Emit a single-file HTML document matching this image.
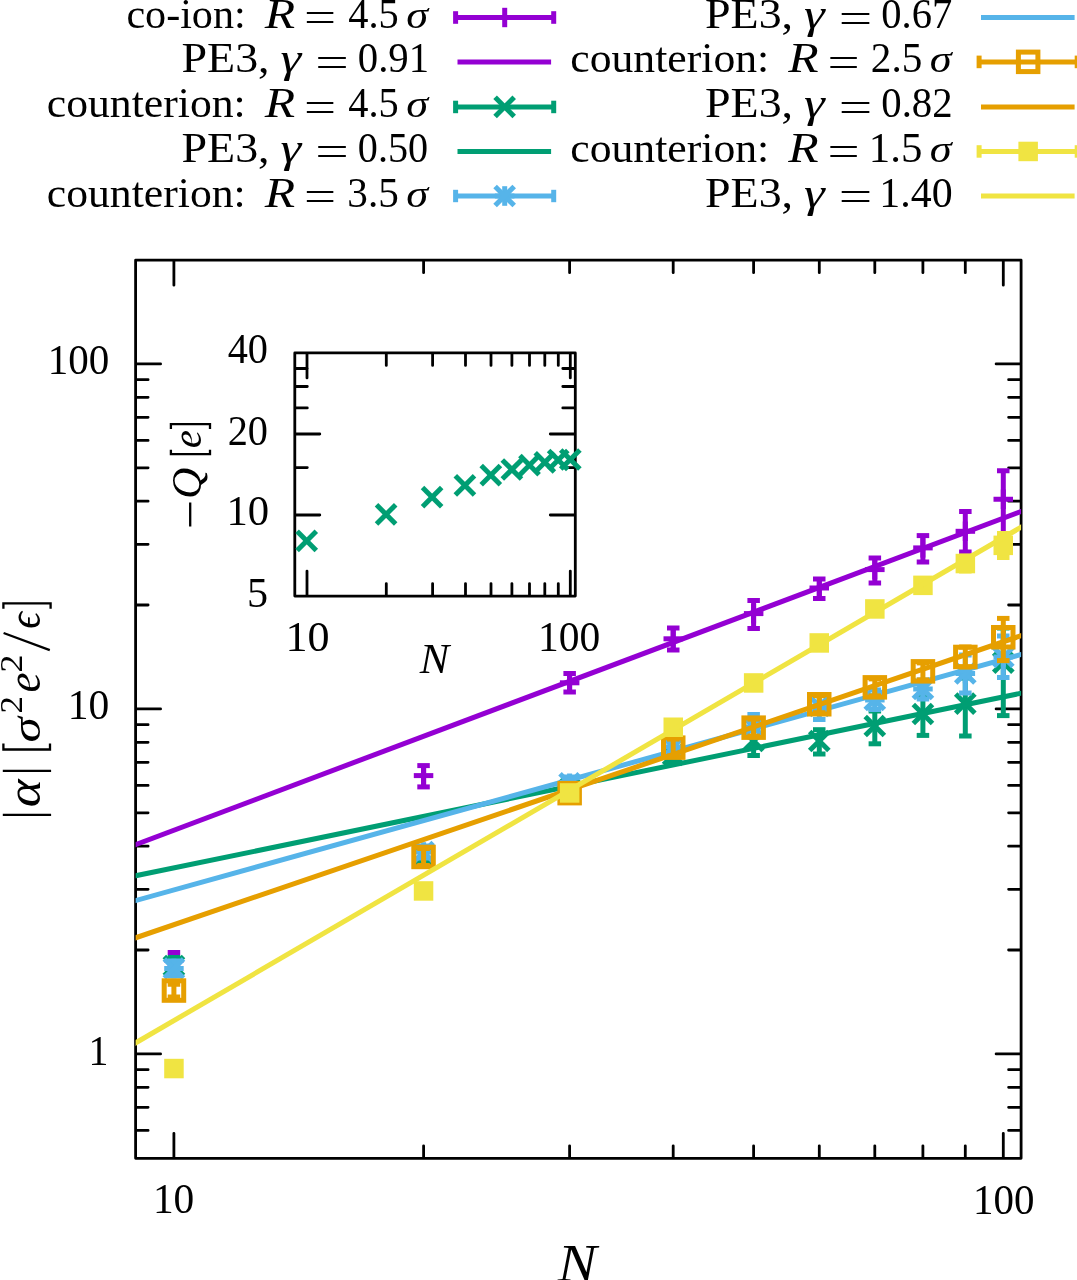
<!DOCTYPE html>
<html><head><meta charset="utf-8"><style>html,body{margin:0;padding:0;background:#fff;overflow:hidden}svg{display:block;will-change:transform}</style></head>
<body><svg width="1077" height="1280" viewBox="0 0 1077 1280">
<rect width="1077" height="1280" fill="#fff"/>
<g font-family="Liberation Serif, serif" fill="#000"><text x="126.40" y="27.60" font-size="42" textLength="119.30" lengthAdjust="spacingAndGlyphs">co-ion:</text>
<text x="264.70" y="27.60" font-size="42" font-style="italic" textLength="30.40" lengthAdjust="spacingAndGlyphs">R</text>
<text x="304.00" y="31.10" font-size="42" textLength="32.10" lengthAdjust="spacingAndGlyphs">=</text>
<text x="348.30" y="27.60" font-size="42" textLength="50.50" lengthAdjust="spacingAndGlyphs">4.5</text>
<text x="406.20" y="27.60" font-size="37" font-style="italic" textLength="21.90" lengthAdjust="spacingAndGlyphs">σ</text>
<text x="181.50" y="72.40" font-size="42" textLength="88.10" lengthAdjust="spacingAndGlyphs">PE3,</text>
<text x="280.60" y="72.40" font-size="42" font-style="italic" textLength="20.70" lengthAdjust="spacingAndGlyphs">γ</text>
<text x="315.20" y="75.90" font-size="42" textLength="33.50" lengthAdjust="spacingAndGlyphs">=</text>
<text x="357.80" y="72.40" font-size="42" textLength="71.30" lengthAdjust="spacingAndGlyphs">0.91</text>
<text x="46.80" y="117.30" font-size="42" textLength="198.90" lengthAdjust="spacingAndGlyphs">counterion:</text>
<text x="264.70" y="117.30" font-size="42" font-style="italic" textLength="30.40" lengthAdjust="spacingAndGlyphs">R</text>
<text x="304.00" y="120.80" font-size="42" textLength="32.10" lengthAdjust="spacingAndGlyphs">=</text>
<text x="348.30" y="117.30" font-size="42" textLength="50.50" lengthAdjust="spacingAndGlyphs">4.5</text>
<text x="406.20" y="117.30" font-size="37" font-style="italic" textLength="21.90" lengthAdjust="spacingAndGlyphs">σ</text>
<text x="181.50" y="161.90" font-size="42" textLength="88.10" lengthAdjust="spacingAndGlyphs">PE3,</text>
<text x="280.60" y="161.90" font-size="42" font-style="italic" textLength="20.70" lengthAdjust="spacingAndGlyphs">γ</text>
<text x="315.20" y="165.40" font-size="42" textLength="33.50" lengthAdjust="spacingAndGlyphs">=</text>
<text x="357.80" y="161.90" font-size="42" textLength="70.30" lengthAdjust="spacingAndGlyphs">0.50</text>
<text x="46.80" y="206.50" font-size="42" textLength="198.90" lengthAdjust="spacingAndGlyphs">counterion:</text>
<text x="264.70" y="206.50" font-size="42" font-style="italic" textLength="30.40" lengthAdjust="spacingAndGlyphs">R</text>
<text x="304.00" y="210.00" font-size="42" textLength="32.10" lengthAdjust="spacingAndGlyphs">=</text>
<text x="347.30" y="206.50" font-size="42" textLength="51.50" lengthAdjust="spacingAndGlyphs">3.5</text>
<text x="406.20" y="206.50" font-size="37" font-style="italic" textLength="21.90" lengthAdjust="spacingAndGlyphs">σ</text>
<text x="705.00" y="28.00" font-size="42" textLength="88.10" lengthAdjust="spacingAndGlyphs">PE3,</text>
<text x="804.10" y="28.00" font-size="42" font-style="italic" textLength="20.70" lengthAdjust="spacingAndGlyphs">γ</text>
<text x="838.70" y="31.50" font-size="42" textLength="33.50" lengthAdjust="spacingAndGlyphs">=</text>
<text x="881.30" y="28.00" font-size="42" textLength="70.90" lengthAdjust="spacingAndGlyphs">0.67</text>
<text x="570.30" y="72.40" font-size="42" textLength="198.90" lengthAdjust="spacingAndGlyphs">counterion:</text>
<text x="788.20" y="72.40" font-size="42" font-style="italic" textLength="30.40" lengthAdjust="spacingAndGlyphs">R</text>
<text x="827.50" y="75.90" font-size="42" textLength="32.10" lengthAdjust="spacingAndGlyphs">=</text>
<text x="870.80" y="72.40" font-size="42" textLength="51.50" lengthAdjust="spacingAndGlyphs">2.5</text>
<text x="929.70" y="72.40" font-size="37" font-style="italic" textLength="21.90" lengthAdjust="spacingAndGlyphs">σ</text>
<text x="705.00" y="117.30" font-size="42" textLength="88.10" lengthAdjust="spacingAndGlyphs">PE3,</text>
<text x="804.10" y="117.30" font-size="42" font-style="italic" textLength="20.70" lengthAdjust="spacingAndGlyphs">γ</text>
<text x="838.70" y="120.80" font-size="42" textLength="33.50" lengthAdjust="spacingAndGlyphs">=</text>
<text x="881.30" y="117.30" font-size="42" textLength="71.30" lengthAdjust="spacingAndGlyphs">0.82</text>
<text x="570.30" y="161.90" font-size="42" textLength="198.90" lengthAdjust="spacingAndGlyphs">counterion:</text>
<text x="788.20" y="161.90" font-size="42" font-style="italic" textLength="30.40" lengthAdjust="spacingAndGlyphs">R</text>
<text x="827.50" y="165.40" font-size="42" textLength="32.10" lengthAdjust="spacingAndGlyphs">=</text>
<text x="868.80" y="161.90" font-size="42" textLength="53.50" lengthAdjust="spacingAndGlyphs">1.5</text>
<text x="929.70" y="161.90" font-size="37" font-style="italic" textLength="21.90" lengthAdjust="spacingAndGlyphs">σ</text>
<text x="705.00" y="206.50" font-size="42" textLength="88.10" lengthAdjust="spacingAndGlyphs">PE3,</text>
<text x="804.10" y="206.50" font-size="42" font-style="italic" textLength="20.70" lengthAdjust="spacingAndGlyphs">γ</text>
<text x="838.70" y="210.00" font-size="42" textLength="33.50" lengthAdjust="spacingAndGlyphs">=</text>
<text x="879.30" y="206.50" font-size="42" textLength="73.30" lengthAdjust="spacingAndGlyphs">1.40</text>
<text x="47.70" y="374.00" font-size="42" textLength="61.50" lengthAdjust="spacingAndGlyphs">100</text>
<text x="67.80" y="719.30" font-size="42" textLength="41.50" lengthAdjust="spacingAndGlyphs">10</text>
<text x="88.50" y="1064.60" font-size="42" textLength="19.90" lengthAdjust="spacingAndGlyphs">1</text>
<text x="152.90" y="1213.20" font-size="42" textLength="41.40" lengthAdjust="spacingAndGlyphs">10</text>
<text x="973.10" y="1213.50" font-size="42" textLength="61.40" lengthAdjust="spacingAndGlyphs">100</text>
<text x="557.80" y="1280.50" font-size="52" font-style="italic" textLength="38.90" lengthAdjust="spacingAndGlyphs">N</text>
<text x="227.70" y="363.40" font-size="42" textLength="40.30" lengthAdjust="spacingAndGlyphs">40</text>
<text x="227.70" y="444.50" font-size="42" textLength="40.30" lengthAdjust="spacingAndGlyphs">20</text>
<text x="226.40" y="525.30" font-size="42" textLength="42.70" lengthAdjust="spacingAndGlyphs">10</text>
<text x="247.00" y="607.00" font-size="42" textLength="21.10" lengthAdjust="spacingAndGlyphs">5</text>
<text x="285.40" y="651.00" font-size="42" textLength="44.10" lengthAdjust="spacingAndGlyphs">10</text>
<text x="538.00" y="651.00" font-size="42" textLength="62.20" lengthAdjust="spacingAndGlyphs">100</text>
<text x="419.80" y="672.60" font-size="42" font-style="italic" textLength="29.40" lengthAdjust="spacingAndGlyphs">N</text>
<text transform="translate(39.80,0) rotate(-90)" x="-807.30" y="0" font-size="48" font-style="italic" textLength="27.90" lengthAdjust="spacingAndGlyphs">α</text>
<text transform="translate(39.80,0) rotate(-90)" x="-742.60" y="0" font-size="43" font-style="italic" textLength="25.30" lengthAdjust="spacingAndGlyphs">σ</text>
<text transform="translate(21.80,0) rotate(-90)" x="-713.60" y="0" font-size="31" textLength="17.40" lengthAdjust="spacingAndGlyphs">2</text>
<text transform="translate(39.80,0) rotate(-90)" x="-692.50" y="0" font-size="48" font-style="italic" textLength="20.10" lengthAdjust="spacingAndGlyphs">e</text>
<text transform="translate(21.80,0) rotate(-90)" x="-672.40" y="0" font-size="31" textLength="17.90" lengthAdjust="spacingAndGlyphs">2</text>
<text transform="translate(39.80,0) rotate(-90)" x="-628.70" y="0" font-size="46" font-style="italic" textLength="16.60" lengthAdjust="spacingAndGlyphs">ϵ</text>
<text transform="translate(201.20,0) rotate(-90)" x="-499.00" y="0" font-size="42" font-style="italic" textLength="31.20" lengthAdjust="spacingAndGlyphs">Q</text>
<text transform="translate(201.20,0) rotate(-90)" x="-448.30" y="0" font-size="42" font-style="italic" textLength="18.30" lengthAdjust="spacingAndGlyphs">e</text></g>
<path d="M2.8 814.8H51.1 M2.8 770.8H51.1 M3.4 743.6V749.5H50.0V743.6 M3.4 608.8V603.3H50.6V608.8 M3.6 633.0L49.8 650.2 M190.2 502.6V526.6 M170.9 449.7V454.2H210.0V449.7 M170.9 429.1V424.1H210.0V429.1" fill="none" stroke="#000" stroke-width="2.3"/>
<line x1="455.6" y1="17.5" x2="553.7" y2="17.5" stroke="#9400d3" stroke-width="5.0" stroke-linecap="butt"/>
<line x1="455.6" y1="11.2" x2="455.6" y2="23.8" stroke="#9400d3" stroke-width="5.0" stroke-linecap="butt"/>
<line x1="553.7" y1="11.2" x2="553.7" y2="23.8" stroke="#9400d3" stroke-width="5.0" stroke-linecap="butt"/>
<line x1="504.7" y1="7.8" x2="504.7" y2="27.2" stroke="#9400d3" stroke-width="5.0" stroke-linecap="butt"/>
<line x1="457.5" y1="61.9" x2="551.1" y2="61.9" stroke="#9400d3" stroke-width="5.0" stroke-linecap="butt"/>
<line x1="455.6" y1="106.9" x2="553.7" y2="106.9" stroke="#009e73" stroke-width="5.0" stroke-linecap="butt"/>
<line x1="455.6" y1="100.7" x2="455.6" y2="113.2" stroke="#009e73" stroke-width="5.0" stroke-linecap="butt"/>
<line x1="553.7" y1="100.7" x2="553.7" y2="113.2" stroke="#009e73" stroke-width="5.0" stroke-linecap="butt"/>
<line x1="495.1" y1="97.3" x2="514.2" y2="116.5" stroke="#009e73" stroke-width="5.0" stroke-linecap="butt"/>
<line x1="495.1" y1="116.5" x2="514.2" y2="97.3" stroke="#009e73" stroke-width="5.0" stroke-linecap="butt"/>
<line x1="457.5" y1="151.4" x2="551.1" y2="151.4" stroke="#009e73" stroke-width="5.0" stroke-linecap="butt"/>
<line x1="455.6" y1="196.0" x2="553.7" y2="196.0" stroke="#56b4e9" stroke-width="5.0" stroke-linecap="butt"/>
<line x1="455.6" y1="189.8" x2="455.6" y2="202.2" stroke="#56b4e9" stroke-width="5.0" stroke-linecap="butt"/>
<line x1="553.7" y1="189.8" x2="553.7" y2="202.2" stroke="#56b4e9" stroke-width="5.0" stroke-linecap="butt"/>
<line x1="494.9" y1="196.0" x2="514.4" y2="196.0" stroke="#56b4e9" stroke-width="5.0" stroke-linecap="butt"/>
<line x1="504.7" y1="186.2" x2="504.7" y2="205.8" stroke="#56b4e9" stroke-width="5.0" stroke-linecap="butt"/>
<line x1="495.1" y1="186.4" x2="514.2" y2="205.6" stroke="#56b4e9" stroke-width="5.0" stroke-linecap="butt"/>
<line x1="495.1" y1="205.6" x2="514.2" y2="186.4" stroke="#56b4e9" stroke-width="5.0" stroke-linecap="butt"/>
<line x1="981.0" y1="17.5" x2="1074.6" y2="17.5" stroke="#56b4e9" stroke-width="5.0" stroke-linecap="butt"/>
<line x1="979.1" y1="61.9" x2="1077.2" y2="61.9" stroke="#e69f00" stroke-width="5.0" stroke-linecap="butt"/>
<line x1="979.1" y1="55.6" x2="979.1" y2="68.2" stroke="#e69f00" stroke-width="5.0" stroke-linecap="butt"/>
<line x1="1077.2" y1="55.6" x2="1077.2" y2="68.2" stroke="#e69f00" stroke-width="5.0" stroke-linecap="butt"/>
<rect x="1018.4" y="52.1" width="19.5" height="19.5" fill="none" stroke="#e69f00" stroke-width="5.0"/>
<line x1="981.0" y1="106.9" x2="1074.6" y2="106.9" stroke="#e69f00" stroke-width="5.0" stroke-linecap="butt"/>
<line x1="979.1" y1="151.4" x2="1077.2" y2="151.4" stroke="#f0e442" stroke-width="5.0" stroke-linecap="butt"/>
<line x1="979.1" y1="145.2" x2="979.1" y2="157.7" stroke="#f0e442" stroke-width="5.0" stroke-linecap="butt"/>
<line x1="1077.2" y1="145.2" x2="1077.2" y2="157.7" stroke="#f0e442" stroke-width="5.0" stroke-linecap="butt"/>
<rect x="1018.4" y="141.7" width="19.5" height="19.5" fill="#f0e442"/>
<line x1="981.0" y1="196.0" x2="1074.6" y2="196.0" stroke="#f0e442" stroke-width="5.0" stroke-linecap="butt"/>
<path d="M173.9 1158.3L173.9 1133.3 M173.9 260.2L173.9 285.2 M1003.3 1158.3L1003.3 1133.3 M1003.3 260.2L1003.3 285.2 M423.6 1158.3L423.6 1145.8 M423.6 260.2L423.6 272.7 M569.6 1158.3L569.6 1145.8 M569.6 260.2L569.6 272.7 M673.2 1158.3L673.2 1145.8 M673.2 260.2L673.2 272.7 M753.6 1158.3L753.6 1145.8 M753.6 260.2L753.6 272.7 M819.3 1158.3L819.3 1145.8 M819.3 260.2L819.3 272.7 M874.8 1158.3L874.8 1145.8 M874.8 260.2L874.8 272.7 M922.9 1158.3L922.9 1145.8 M922.9 260.2L922.9 272.7 M965.3 1158.3L965.3 1145.8 M965.3 260.2L965.3 272.7 M135.6 1053.9L160.6 1053.9 M1021.1 1053.9L996.1 1053.9 M135.6 708.9L160.6 708.9 M1021.1 708.9L996.1 708.9 M135.6 363.9L160.6 363.9 M1021.1 363.9L996.1 363.9 M135.6 1130.4L148.1 1130.4 M1021.1 1130.4L1008.6 1130.4 M135.6 1107.3L148.1 1107.3 M1021.1 1107.3L1008.6 1107.3 M135.6 1087.3L148.1 1087.3 M1021.1 1087.3L1008.6 1087.3 M135.6 1069.7L148.1 1069.7 M1021.1 1069.7L1008.6 1069.7 M135.6 950.0L148.1 950.0 M1021.1 950.0L1008.6 950.0 M135.6 889.3L148.1 889.3 M1021.1 889.3L1008.6 889.3 M135.6 846.2L148.1 846.2 M1021.1 846.2L1008.6 846.2 M135.6 812.8L148.1 812.8 M1021.1 812.8L1008.6 812.8 M135.6 785.4L148.1 785.4 M1021.1 785.4L1008.6 785.4 M135.6 762.3L148.1 762.3 M1021.1 762.3L1008.6 762.3 M135.6 742.3L148.1 742.3 M1021.1 742.3L1008.6 742.3 M135.6 724.7L148.1 724.7 M1021.1 724.7L1008.6 724.7 M135.6 605.0L148.1 605.0 M1021.1 605.0L1008.6 605.0 M135.6 544.3L148.1 544.3 M1021.1 544.3L1008.6 544.3 M135.6 501.2L148.1 501.2 M1021.1 501.2L1008.6 501.2 M135.6 467.8L148.1 467.8 M1021.1 467.8L1008.6 467.8 M135.6 440.4L148.1 440.4 M1021.1 440.4L1008.6 440.4 M135.6 417.3L148.1 417.3 M1021.1 417.3L1008.6 417.3 M135.6 397.3L148.1 397.3 M1021.1 397.3L1008.6 397.3 M135.6 379.7L148.1 379.7 M1021.1 379.7L1008.6 379.7 M135.6 260.2H1021.1V1158.3H135.6Z M307.0 596.1L307.0 571.1 M307.0 352.9L307.0 377.9 M570.3 596.1L570.3 571.1 M570.3 352.9L570.3 377.9 M386.3 596.1L386.3 583.6 M386.3 352.9L386.3 365.4 M432.6 596.1L432.6 583.6 M432.6 352.9L432.6 365.4 M465.5 596.1L465.5 583.6 M465.5 352.9L465.5 365.4 M491.0 596.1L491.0 583.6 M491.0 352.9L491.0 365.4 M511.9 596.1L511.9 583.6 M511.9 352.9L511.9 365.4 M529.5 596.1L529.5 583.6 M529.5 352.9L529.5 365.4 M544.8 596.1L544.8 583.6 M544.8 352.9L544.8 365.4 M558.3 596.1L558.3 583.6 M558.3 352.9L558.3 365.4 M294.8 515.0L319.8 515.0 M575.3 515.0L550.3 515.0 M294.8 434.0L319.8 434.0 M575.3 434.0L550.3 434.0 M294.8 467.6L307.3 467.6 M575.3 467.6L562.8 467.6 M294.8 407.9L307.3 407.9 M575.3 407.9L562.8 407.9 M294.8 386.5L307.3 386.5 M575.3 386.5L562.8 386.5 M294.8 368.5L307.3 368.5 M575.3 368.5L562.8 368.5 M294.8 352.9H575.3V596.1H294.8Z" fill="none" stroke="#000" stroke-width="2.8" stroke-linecap="round" stroke-linejoin="round"/>
<line x1="297.1" y1="531.2" x2="316.3" y2="550.4" stroke="#009e73" stroke-width="5.0" stroke-linecap="butt"/>
<line x1="297.1" y1="550.4" x2="316.3" y2="531.2" stroke="#009e73" stroke-width="5.0" stroke-linecap="butt"/>
<line x1="376.5" y1="504.8" x2="395.7" y2="524.0" stroke="#009e73" stroke-width="5.0" stroke-linecap="butt"/>
<line x1="376.5" y1="524.0" x2="395.7" y2="504.8" stroke="#009e73" stroke-width="5.0" stroke-linecap="butt"/>
<line x1="422.5" y1="487.5" x2="441.7" y2="506.7" stroke="#009e73" stroke-width="5.0" stroke-linecap="butt"/>
<line x1="422.5" y1="506.7" x2="441.7" y2="487.5" stroke="#009e73" stroke-width="5.0" stroke-linecap="butt"/>
<line x1="455.3" y1="475.8" x2="474.5" y2="495.0" stroke="#009e73" stroke-width="5.0" stroke-linecap="butt"/>
<line x1="455.3" y1="495.0" x2="474.5" y2="475.8" stroke="#009e73" stroke-width="5.0" stroke-linecap="butt"/>
<line x1="481.2" y1="465.5" x2="500.4" y2="484.7" stroke="#009e73" stroke-width="5.0" stroke-linecap="butt"/>
<line x1="481.2" y1="484.7" x2="500.4" y2="465.5" stroke="#009e73" stroke-width="5.0" stroke-linecap="butt"/>
<line x1="502.3" y1="459.9" x2="521.5" y2="479.1" stroke="#009e73" stroke-width="5.0" stroke-linecap="butt"/>
<line x1="502.3" y1="479.1" x2="521.5" y2="459.9" stroke="#009e73" stroke-width="5.0" stroke-linecap="butt"/>
<line x1="519.9" y1="455.5" x2="539.1" y2="474.7" stroke="#009e73" stroke-width="5.0" stroke-linecap="butt"/>
<line x1="519.9" y1="474.7" x2="539.1" y2="455.5" stroke="#009e73" stroke-width="5.0" stroke-linecap="butt"/>
<line x1="535.2" y1="452.7" x2="554.4" y2="471.9" stroke="#009e73" stroke-width="5.0" stroke-linecap="butt"/>
<line x1="535.2" y1="471.9" x2="554.4" y2="452.7" stroke="#009e73" stroke-width="5.0" stroke-linecap="butt"/>
<line x1="548.6" y1="450.4" x2="567.8" y2="469.6" stroke="#009e73" stroke-width="5.0" stroke-linecap="butt"/>
<line x1="548.6" y1="469.6" x2="567.8" y2="450.4" stroke="#009e73" stroke-width="5.0" stroke-linecap="butt"/>
<line x1="560.7" y1="449.9" x2="579.9" y2="469.1" stroke="#009e73" stroke-width="5.0" stroke-linecap="butt"/>
<line x1="560.7" y1="469.1" x2="579.9" y2="449.9" stroke="#009e73" stroke-width="5.0" stroke-linecap="butt"/>
<clipPath id="cp"><rect x="135.6" y="260.2" width="885.5" height="898.0999999999999"/></clipPath>
<g clip-path="url(#cp)">
<line x1="173.9" y1="952.5" x2="173.9" y2="967.0" stroke="#9400d3" stroke-width="5.0" stroke-linecap="butt"/>
<line x1="167.7" y1="952.5" x2="180.2" y2="952.5" stroke="#9400d3" stroke-width="5.0" stroke-linecap="butt"/>
<line x1="167.7" y1="967.0" x2="180.2" y2="967.0" stroke="#9400d3" stroke-width="5.0" stroke-linecap="butt"/>
<line x1="164.2" y1="960.0" x2="183.7" y2="960.0" stroke="#9400d3" stroke-width="5.0" stroke-linecap="butt"/>
<line x1="173.9" y1="950.2" x2="173.9" y2="969.8" stroke="#9400d3" stroke-width="5.0" stroke-linecap="butt"/>
<line x1="423.6" y1="765.6" x2="423.6" y2="786.9" stroke="#9400d3" stroke-width="5.0" stroke-linecap="butt"/>
<line x1="417.3" y1="765.6" x2="429.8" y2="765.6" stroke="#9400d3" stroke-width="5.0" stroke-linecap="butt"/>
<line x1="417.3" y1="786.9" x2="429.8" y2="786.9" stroke="#9400d3" stroke-width="5.0" stroke-linecap="butt"/>
<line x1="413.8" y1="775.6" x2="433.3" y2="775.6" stroke="#9400d3" stroke-width="5.0" stroke-linecap="butt"/>
<line x1="423.6" y1="765.9" x2="423.6" y2="785.4" stroke="#9400d3" stroke-width="5.0" stroke-linecap="butt"/>
<line x1="569.6" y1="673.5" x2="569.6" y2="692.0" stroke="#9400d3" stroke-width="5.0" stroke-linecap="butt"/>
<line x1="563.4" y1="673.5" x2="575.9" y2="673.5" stroke="#9400d3" stroke-width="5.0" stroke-linecap="butt"/>
<line x1="563.4" y1="692.0" x2="575.9" y2="692.0" stroke="#9400d3" stroke-width="5.0" stroke-linecap="butt"/>
<line x1="559.9" y1="682.8" x2="579.4" y2="682.8" stroke="#9400d3" stroke-width="5.0" stroke-linecap="butt"/>
<line x1="569.6" y1="673.0" x2="569.6" y2="692.5" stroke="#9400d3" stroke-width="5.0" stroke-linecap="butt"/>
<line x1="673.2" y1="628.0" x2="673.2" y2="650.0" stroke="#9400d3" stroke-width="5.0" stroke-linecap="butt"/>
<line x1="667.0" y1="628.0" x2="679.5" y2="628.0" stroke="#9400d3" stroke-width="5.0" stroke-linecap="butt"/>
<line x1="667.0" y1="650.0" x2="679.5" y2="650.0" stroke="#9400d3" stroke-width="5.0" stroke-linecap="butt"/>
<line x1="663.5" y1="638.8" x2="683.0" y2="638.8" stroke="#9400d3" stroke-width="5.0" stroke-linecap="butt"/>
<line x1="673.2" y1="629.0" x2="673.2" y2="648.5" stroke="#9400d3" stroke-width="5.0" stroke-linecap="butt"/>
<line x1="753.6" y1="600.5" x2="753.6" y2="628.5" stroke="#9400d3" stroke-width="5.0" stroke-linecap="butt"/>
<line x1="747.4" y1="600.5" x2="759.9" y2="600.5" stroke="#9400d3" stroke-width="5.0" stroke-linecap="butt"/>
<line x1="747.4" y1="628.5" x2="759.9" y2="628.5" stroke="#9400d3" stroke-width="5.0" stroke-linecap="butt"/>
<line x1="743.9" y1="613.6" x2="763.4" y2="613.6" stroke="#9400d3" stroke-width="5.0" stroke-linecap="butt"/>
<line x1="753.6" y1="603.9" x2="753.6" y2="623.4" stroke="#9400d3" stroke-width="5.0" stroke-linecap="butt"/>
<line x1="819.3" y1="579.0" x2="819.3" y2="598.5" stroke="#9400d3" stroke-width="5.0" stroke-linecap="butt"/>
<line x1="813.0" y1="579.0" x2="825.5" y2="579.0" stroke="#9400d3" stroke-width="5.0" stroke-linecap="butt"/>
<line x1="813.0" y1="598.5" x2="825.5" y2="598.5" stroke="#9400d3" stroke-width="5.0" stroke-linecap="butt"/>
<line x1="809.5" y1="588.0" x2="829.0" y2="588.0" stroke="#9400d3" stroke-width="5.0" stroke-linecap="butt"/>
<line x1="819.3" y1="578.2" x2="819.3" y2="597.8" stroke="#9400d3" stroke-width="5.0" stroke-linecap="butt"/>
<line x1="874.8" y1="558.0" x2="874.8" y2="583.0" stroke="#9400d3" stroke-width="5.0" stroke-linecap="butt"/>
<line x1="868.6" y1="558.0" x2="881.1" y2="558.0" stroke="#9400d3" stroke-width="5.0" stroke-linecap="butt"/>
<line x1="868.6" y1="583.0" x2="881.1" y2="583.0" stroke="#9400d3" stroke-width="5.0" stroke-linecap="butt"/>
<line x1="865.1" y1="569.6" x2="884.6" y2="569.6" stroke="#9400d3" stroke-width="5.0" stroke-linecap="butt"/>
<line x1="874.8" y1="559.9" x2="874.8" y2="579.4" stroke="#9400d3" stroke-width="5.0" stroke-linecap="butt"/>
<line x1="922.9" y1="535.6" x2="922.9" y2="562.0" stroke="#9400d3" stroke-width="5.0" stroke-linecap="butt"/>
<line x1="916.7" y1="535.6" x2="929.2" y2="535.6" stroke="#9400d3" stroke-width="5.0" stroke-linecap="butt"/>
<line x1="916.7" y1="562.0" x2="929.2" y2="562.0" stroke="#9400d3" stroke-width="5.0" stroke-linecap="butt"/>
<line x1="913.2" y1="547.9" x2="932.7" y2="547.9" stroke="#9400d3" stroke-width="5.0" stroke-linecap="butt"/>
<line x1="922.9" y1="538.1" x2="922.9" y2="557.6" stroke="#9400d3" stroke-width="5.0" stroke-linecap="butt"/>
<line x1="965.3" y1="511.5" x2="965.3" y2="552.0" stroke="#9400d3" stroke-width="5.0" stroke-linecap="butt"/>
<line x1="959.1" y1="511.5" x2="971.6" y2="511.5" stroke="#9400d3" stroke-width="5.0" stroke-linecap="butt"/>
<line x1="959.1" y1="552.0" x2="971.6" y2="552.0" stroke="#9400d3" stroke-width="5.0" stroke-linecap="butt"/>
<line x1="955.6" y1="531.3" x2="975.1" y2="531.3" stroke="#9400d3" stroke-width="5.0" stroke-linecap="butt"/>
<line x1="965.3" y1="521.5" x2="965.3" y2="541.0" stroke="#9400d3" stroke-width="5.0" stroke-linecap="butt"/>
<line x1="1003.3" y1="470.8" x2="1003.3" y2="533.5" stroke="#9400d3" stroke-width="5.0" stroke-linecap="butt"/>
<line x1="997.0" y1="470.8" x2="1009.5" y2="470.8" stroke="#9400d3" stroke-width="5.0" stroke-linecap="butt"/>
<line x1="997.0" y1="533.5" x2="1009.5" y2="533.5" stroke="#9400d3" stroke-width="5.0" stroke-linecap="butt"/>
<line x1="993.5" y1="499.3" x2="1013.0" y2="499.3" stroke="#9400d3" stroke-width="5.0" stroke-linecap="butt"/>
<line x1="1003.3" y1="489.6" x2="1003.3" y2="509.1" stroke="#9400d3" stroke-width="5.0" stroke-linecap="butt"/>
<line x1="130.6" y1="846.5" x2="1026.1" y2="509.6" stroke="#9400d3" stroke-width="5.0" stroke-linecap="butt"/>
<line x1="173.9" y1="957.5" x2="173.9" y2="975.0" stroke="#009e73" stroke-width="5.0" stroke-linecap="butt"/>
<line x1="167.7" y1="957.5" x2="180.2" y2="957.5" stroke="#009e73" stroke-width="5.0" stroke-linecap="butt"/>
<line x1="167.7" y1="975.0" x2="180.2" y2="975.0" stroke="#009e73" stroke-width="5.0" stroke-linecap="butt"/>
<line x1="164.3" y1="956.4" x2="183.5" y2="975.6" stroke="#009e73" stroke-width="5.0" stroke-linecap="butt"/>
<line x1="164.3" y1="975.6" x2="183.5" y2="956.4" stroke="#009e73" stroke-width="5.0" stroke-linecap="butt"/>
<line x1="423.6" y1="849.0" x2="423.6" y2="861.0" stroke="#009e73" stroke-width="5.0" stroke-linecap="butt"/>
<line x1="417.3" y1="849.0" x2="429.8" y2="849.0" stroke="#009e73" stroke-width="5.0" stroke-linecap="butt"/>
<line x1="417.3" y1="861.0" x2="429.8" y2="861.0" stroke="#009e73" stroke-width="5.0" stroke-linecap="butt"/>
<line x1="414.0" y1="845.4" x2="433.2" y2="864.6" stroke="#009e73" stroke-width="5.0" stroke-linecap="butt"/>
<line x1="414.0" y1="864.6" x2="433.2" y2="845.4" stroke="#009e73" stroke-width="5.0" stroke-linecap="butt"/>
<line x1="569.6" y1="783.0" x2="569.6" y2="795.0" stroke="#009e73" stroke-width="5.0" stroke-linecap="butt"/>
<line x1="563.4" y1="783.0" x2="575.9" y2="783.0" stroke="#009e73" stroke-width="5.0" stroke-linecap="butt"/>
<line x1="563.4" y1="795.0" x2="575.9" y2="795.0" stroke="#009e73" stroke-width="5.0" stroke-linecap="butt"/>
<line x1="560.0" y1="779.4" x2="579.2" y2="798.6" stroke="#009e73" stroke-width="5.0" stroke-linecap="butt"/>
<line x1="560.0" y1="798.6" x2="579.2" y2="779.4" stroke="#009e73" stroke-width="5.0" stroke-linecap="butt"/>
<line x1="673.2" y1="748.0" x2="673.2" y2="762.0" stroke="#009e73" stroke-width="5.0" stroke-linecap="butt"/>
<line x1="667.0" y1="748.0" x2="679.5" y2="748.0" stroke="#009e73" stroke-width="5.0" stroke-linecap="butt"/>
<line x1="667.0" y1="762.0" x2="679.5" y2="762.0" stroke="#009e73" stroke-width="5.0" stroke-linecap="butt"/>
<line x1="663.6" y1="745.4" x2="682.8" y2="764.6" stroke="#009e73" stroke-width="5.0" stroke-linecap="butt"/>
<line x1="663.6" y1="764.6" x2="682.8" y2="745.4" stroke="#009e73" stroke-width="5.0" stroke-linecap="butt"/>
<line x1="753.6" y1="729.0" x2="753.6" y2="755.5" stroke="#009e73" stroke-width="5.0" stroke-linecap="butt"/>
<line x1="747.4" y1="729.0" x2="759.9" y2="729.0" stroke="#009e73" stroke-width="5.0" stroke-linecap="butt"/>
<line x1="747.4" y1="755.5" x2="759.9" y2="755.5" stroke="#009e73" stroke-width="5.0" stroke-linecap="butt"/>
<line x1="744.0" y1="731.4" x2="763.2" y2="750.6" stroke="#009e73" stroke-width="5.0" stroke-linecap="butt"/>
<line x1="744.0" y1="750.6" x2="763.2" y2="731.4" stroke="#009e73" stroke-width="5.0" stroke-linecap="butt"/>
<line x1="819.3" y1="729.7" x2="819.3" y2="754.0" stroke="#009e73" stroke-width="5.0" stroke-linecap="butt"/>
<line x1="813.0" y1="729.7" x2="825.5" y2="729.7" stroke="#009e73" stroke-width="5.0" stroke-linecap="butt"/>
<line x1="813.0" y1="754.0" x2="825.5" y2="754.0" stroke="#009e73" stroke-width="5.0" stroke-linecap="butt"/>
<line x1="809.7" y1="731.4" x2="828.9" y2="750.6" stroke="#009e73" stroke-width="5.0" stroke-linecap="butt"/>
<line x1="809.7" y1="750.6" x2="828.9" y2="731.4" stroke="#009e73" stroke-width="5.0" stroke-linecap="butt"/>
<line x1="874.8" y1="711.0" x2="874.8" y2="743.8" stroke="#009e73" stroke-width="5.0" stroke-linecap="butt"/>
<line x1="868.6" y1="711.0" x2="881.1" y2="711.0" stroke="#009e73" stroke-width="5.0" stroke-linecap="butt"/>
<line x1="868.6" y1="743.8" x2="881.1" y2="743.8" stroke="#009e73" stroke-width="5.0" stroke-linecap="butt"/>
<line x1="865.2" y1="716.4" x2="884.4" y2="735.6" stroke="#009e73" stroke-width="5.0" stroke-linecap="butt"/>
<line x1="865.2" y1="735.6" x2="884.4" y2="716.4" stroke="#009e73" stroke-width="5.0" stroke-linecap="butt"/>
<line x1="922.9" y1="697.0" x2="922.9" y2="735.4" stroke="#009e73" stroke-width="5.0" stroke-linecap="butt"/>
<line x1="916.7" y1="697.0" x2="929.2" y2="697.0" stroke="#009e73" stroke-width="5.0" stroke-linecap="butt"/>
<line x1="916.7" y1="735.4" x2="929.2" y2="735.4" stroke="#009e73" stroke-width="5.0" stroke-linecap="butt"/>
<line x1="913.3" y1="704.4" x2="932.5" y2="723.6" stroke="#009e73" stroke-width="5.0" stroke-linecap="butt"/>
<line x1="913.3" y1="723.6" x2="932.5" y2="704.4" stroke="#009e73" stroke-width="5.0" stroke-linecap="butt"/>
<line x1="965.3" y1="678.0" x2="965.3" y2="736.0" stroke="#009e73" stroke-width="5.0" stroke-linecap="butt"/>
<line x1="959.1" y1="678.0" x2="971.6" y2="678.0" stroke="#009e73" stroke-width="5.0" stroke-linecap="butt"/>
<line x1="959.1" y1="736.0" x2="971.6" y2="736.0" stroke="#009e73" stroke-width="5.0" stroke-linecap="butt"/>
<line x1="955.7" y1="694.1" x2="974.9" y2="713.3" stroke="#009e73" stroke-width="5.0" stroke-linecap="butt"/>
<line x1="955.7" y1="713.3" x2="974.9" y2="694.1" stroke="#009e73" stroke-width="5.0" stroke-linecap="butt"/>
<line x1="1003.3" y1="628.0" x2="1003.3" y2="715.6" stroke="#009e73" stroke-width="5.0" stroke-linecap="butt"/>
<line x1="997.0" y1="628.0" x2="1009.5" y2="628.0" stroke="#009e73" stroke-width="5.0" stroke-linecap="butt"/>
<line x1="997.0" y1="715.6" x2="1009.5" y2="715.6" stroke="#009e73" stroke-width="5.0" stroke-linecap="butt"/>
<line x1="993.7" y1="653.0" x2="1012.9" y2="672.2" stroke="#009e73" stroke-width="5.0" stroke-linecap="butt"/>
<line x1="993.7" y1="672.2" x2="1012.9" y2="653.0" stroke="#009e73" stroke-width="5.0" stroke-linecap="butt"/>
<line x1="130.6" y1="876.8" x2="1026.1" y2="692.2" stroke="#009e73" stroke-width="5.0" stroke-linecap="butt"/>
<line x1="173.9" y1="961.0" x2="173.9" y2="976.0" stroke="#56b4e9" stroke-width="5.0" stroke-linecap="butt"/>
<line x1="167.7" y1="961.0" x2="180.2" y2="961.0" stroke="#56b4e9" stroke-width="5.0" stroke-linecap="butt"/>
<line x1="167.7" y1="976.0" x2="180.2" y2="976.0" stroke="#56b4e9" stroke-width="5.0" stroke-linecap="butt"/>
<line x1="164.2" y1="968.5" x2="183.7" y2="968.5" stroke="#56b4e9" stroke-width="5.0" stroke-linecap="butt"/>
<line x1="173.9" y1="958.8" x2="173.9" y2="978.2" stroke="#56b4e9" stroke-width="5.0" stroke-linecap="butt"/>
<line x1="164.3" y1="958.9" x2="183.5" y2="978.1" stroke="#56b4e9" stroke-width="5.0" stroke-linecap="butt"/>
<line x1="164.3" y1="978.1" x2="183.5" y2="958.9" stroke="#56b4e9" stroke-width="5.0" stroke-linecap="butt"/>
<line x1="423.6" y1="846.0" x2="423.6" y2="858.0" stroke="#56b4e9" stroke-width="5.0" stroke-linecap="butt"/>
<line x1="417.3" y1="846.0" x2="429.8" y2="846.0" stroke="#56b4e9" stroke-width="5.0" stroke-linecap="butt"/>
<line x1="417.3" y1="858.0" x2="429.8" y2="858.0" stroke="#56b4e9" stroke-width="5.0" stroke-linecap="butt"/>
<line x1="413.8" y1="852.0" x2="433.3" y2="852.0" stroke="#56b4e9" stroke-width="5.0" stroke-linecap="butt"/>
<line x1="423.6" y1="842.2" x2="423.6" y2="861.8" stroke="#56b4e9" stroke-width="5.0" stroke-linecap="butt"/>
<line x1="414.0" y1="842.4" x2="433.2" y2="861.6" stroke="#56b4e9" stroke-width="5.0" stroke-linecap="butt"/>
<line x1="414.0" y1="861.6" x2="433.2" y2="842.4" stroke="#56b4e9" stroke-width="5.0" stroke-linecap="butt"/>
<line x1="569.6" y1="777.0" x2="569.6" y2="790.0" stroke="#56b4e9" stroke-width="5.0" stroke-linecap="butt"/>
<line x1="563.4" y1="777.0" x2="575.9" y2="777.0" stroke="#56b4e9" stroke-width="5.0" stroke-linecap="butt"/>
<line x1="563.4" y1="790.0" x2="575.9" y2="790.0" stroke="#56b4e9" stroke-width="5.0" stroke-linecap="butt"/>
<line x1="559.9" y1="783.3" x2="579.4" y2="783.3" stroke="#56b4e9" stroke-width="5.0" stroke-linecap="butt"/>
<line x1="569.6" y1="773.5" x2="569.6" y2="793.0" stroke="#56b4e9" stroke-width="5.0" stroke-linecap="butt"/>
<line x1="560.0" y1="773.7" x2="579.2" y2="792.9" stroke="#56b4e9" stroke-width="5.0" stroke-linecap="butt"/>
<line x1="560.0" y1="792.9" x2="579.2" y2="773.7" stroke="#56b4e9" stroke-width="5.0" stroke-linecap="butt"/>
<line x1="673.2" y1="740.0" x2="673.2" y2="754.0" stroke="#56b4e9" stroke-width="5.0" stroke-linecap="butt"/>
<line x1="667.0" y1="740.0" x2="679.5" y2="740.0" stroke="#56b4e9" stroke-width="5.0" stroke-linecap="butt"/>
<line x1="667.0" y1="754.0" x2="679.5" y2="754.0" stroke="#56b4e9" stroke-width="5.0" stroke-linecap="butt"/>
<line x1="663.5" y1="747.0" x2="683.0" y2="747.0" stroke="#56b4e9" stroke-width="5.0" stroke-linecap="butt"/>
<line x1="673.2" y1="737.2" x2="673.2" y2="756.8" stroke="#56b4e9" stroke-width="5.0" stroke-linecap="butt"/>
<line x1="663.6" y1="737.4" x2="682.8" y2="756.6" stroke="#56b4e9" stroke-width="5.0" stroke-linecap="butt"/>
<line x1="663.6" y1="756.6" x2="682.8" y2="737.4" stroke="#56b4e9" stroke-width="5.0" stroke-linecap="butt"/>
<line x1="753.6" y1="714.5" x2="753.6" y2="737.0" stroke="#56b4e9" stroke-width="5.0" stroke-linecap="butt"/>
<line x1="747.4" y1="714.5" x2="759.9" y2="714.5" stroke="#56b4e9" stroke-width="5.0" stroke-linecap="butt"/>
<line x1="747.4" y1="737.0" x2="759.9" y2="737.0" stroke="#56b4e9" stroke-width="5.0" stroke-linecap="butt"/>
<line x1="743.9" y1="727.0" x2="763.4" y2="727.0" stroke="#56b4e9" stroke-width="5.0" stroke-linecap="butt"/>
<line x1="753.6" y1="717.2" x2="753.6" y2="736.8" stroke="#56b4e9" stroke-width="5.0" stroke-linecap="butt"/>
<line x1="744.0" y1="717.4" x2="763.2" y2="736.6" stroke="#56b4e9" stroke-width="5.0" stroke-linecap="butt"/>
<line x1="744.0" y1="736.6" x2="763.2" y2="717.4" stroke="#56b4e9" stroke-width="5.0" stroke-linecap="butt"/>
<line x1="819.3" y1="695.5" x2="819.3" y2="719.5" stroke="#56b4e9" stroke-width="5.0" stroke-linecap="butt"/>
<line x1="813.0" y1="695.5" x2="825.5" y2="695.5" stroke="#56b4e9" stroke-width="5.0" stroke-linecap="butt"/>
<line x1="813.0" y1="719.5" x2="825.5" y2="719.5" stroke="#56b4e9" stroke-width="5.0" stroke-linecap="butt"/>
<line x1="809.5" y1="706.0" x2="829.0" y2="706.0" stroke="#56b4e9" stroke-width="5.0" stroke-linecap="butt"/>
<line x1="819.3" y1="696.2" x2="819.3" y2="715.8" stroke="#56b4e9" stroke-width="5.0" stroke-linecap="butt"/>
<line x1="809.7" y1="696.4" x2="828.9" y2="715.6" stroke="#56b4e9" stroke-width="5.0" stroke-linecap="butt"/>
<line x1="809.7" y1="715.6" x2="828.9" y2="696.4" stroke="#56b4e9" stroke-width="5.0" stroke-linecap="butt"/>
<line x1="874.8" y1="690.0" x2="874.8" y2="709.5" stroke="#56b4e9" stroke-width="5.0" stroke-linecap="butt"/>
<line x1="868.6" y1="690.0" x2="881.1" y2="690.0" stroke="#56b4e9" stroke-width="5.0" stroke-linecap="butt"/>
<line x1="868.6" y1="709.5" x2="881.1" y2="709.5" stroke="#56b4e9" stroke-width="5.0" stroke-linecap="butt"/>
<line x1="865.1" y1="700.0" x2="884.6" y2="700.0" stroke="#56b4e9" stroke-width="5.0" stroke-linecap="butt"/>
<line x1="874.8" y1="690.2" x2="874.8" y2="709.8" stroke="#56b4e9" stroke-width="5.0" stroke-linecap="butt"/>
<line x1="865.2" y1="690.4" x2="884.4" y2="709.6" stroke="#56b4e9" stroke-width="5.0" stroke-linecap="butt"/>
<line x1="865.2" y1="709.6" x2="884.4" y2="690.4" stroke="#56b4e9" stroke-width="5.0" stroke-linecap="butt"/>
<line x1="922.9" y1="680.0" x2="922.9" y2="699.0" stroke="#56b4e9" stroke-width="5.0" stroke-linecap="butt"/>
<line x1="916.7" y1="680.0" x2="929.2" y2="680.0" stroke="#56b4e9" stroke-width="5.0" stroke-linecap="butt"/>
<line x1="916.7" y1="699.0" x2="929.2" y2="699.0" stroke="#56b4e9" stroke-width="5.0" stroke-linecap="butt"/>
<line x1="913.2" y1="689.0" x2="932.7" y2="689.0" stroke="#56b4e9" stroke-width="5.0" stroke-linecap="butt"/>
<line x1="922.9" y1="679.2" x2="922.9" y2="698.8" stroke="#56b4e9" stroke-width="5.0" stroke-linecap="butt"/>
<line x1="913.3" y1="679.4" x2="932.5" y2="698.6" stroke="#56b4e9" stroke-width="5.0" stroke-linecap="butt"/>
<line x1="913.3" y1="698.6" x2="932.5" y2="679.4" stroke="#56b4e9" stroke-width="5.0" stroke-linecap="butt"/>
<line x1="965.3" y1="655.0" x2="965.3" y2="693.0" stroke="#56b4e9" stroke-width="5.0" stroke-linecap="butt"/>
<line x1="959.1" y1="655.0" x2="971.6" y2="655.0" stroke="#56b4e9" stroke-width="5.0" stroke-linecap="butt"/>
<line x1="959.1" y1="693.0" x2="971.6" y2="693.0" stroke="#56b4e9" stroke-width="5.0" stroke-linecap="butt"/>
<line x1="955.6" y1="673.5" x2="975.1" y2="673.5" stroke="#56b4e9" stroke-width="5.0" stroke-linecap="butt"/>
<line x1="965.3" y1="663.8" x2="965.3" y2="683.2" stroke="#56b4e9" stroke-width="5.0" stroke-linecap="butt"/>
<line x1="955.7" y1="663.9" x2="974.9" y2="683.1" stroke="#56b4e9" stroke-width="5.0" stroke-linecap="butt"/>
<line x1="955.7" y1="683.1" x2="974.9" y2="663.9" stroke="#56b4e9" stroke-width="5.0" stroke-linecap="butt"/>
<line x1="1003.3" y1="636.0" x2="1003.3" y2="677.5" stroke="#56b4e9" stroke-width="5.0" stroke-linecap="butt"/>
<line x1="997.0" y1="636.0" x2="1009.5" y2="636.0" stroke="#56b4e9" stroke-width="5.0" stroke-linecap="butt"/>
<line x1="997.0" y1="677.5" x2="1009.5" y2="677.5" stroke="#56b4e9" stroke-width="5.0" stroke-linecap="butt"/>
<line x1="993.5" y1="657.0" x2="1013.0" y2="657.0" stroke="#56b4e9" stroke-width="5.0" stroke-linecap="butt"/>
<line x1="1003.3" y1="647.2" x2="1003.3" y2="666.8" stroke="#56b4e9" stroke-width="5.0" stroke-linecap="butt"/>
<line x1="993.7" y1="647.4" x2="1012.9" y2="666.6" stroke="#56b4e9" stroke-width="5.0" stroke-linecap="butt"/>
<line x1="993.7" y1="666.6" x2="1012.9" y2="647.4" stroke="#56b4e9" stroke-width="5.0" stroke-linecap="butt"/>
<line x1="130.6" y1="902.0" x2="1026.1" y2="653.1" stroke="#56b4e9" stroke-width="5.0" stroke-linecap="butt"/>
<line x1="173.9" y1="984.3" x2="173.9" y2="996.9" stroke="#e69f00" stroke-width="5.0" stroke-linecap="butt"/>
<line x1="167.7" y1="984.3" x2="180.2" y2="984.3" stroke="#e69f00" stroke-width="5.0" stroke-linecap="butt"/>
<line x1="167.7" y1="996.9" x2="180.2" y2="996.9" stroke="#e69f00" stroke-width="5.0" stroke-linecap="butt"/>
<rect x="164.2" y="980.8" width="19.5" height="19.5" fill="none" stroke="#e69f00" stroke-width="5.0"/>
<line x1="423.6" y1="848.5" x2="423.6" y2="865.5" stroke="#e69f00" stroke-width="5.0" stroke-linecap="butt"/>
<line x1="417.3" y1="848.5" x2="429.8" y2="848.5" stroke="#e69f00" stroke-width="5.0" stroke-linecap="butt"/>
<line x1="417.3" y1="865.5" x2="429.8" y2="865.5" stroke="#e69f00" stroke-width="5.0" stroke-linecap="butt"/>
<rect x="413.8" y="847.2" width="19.5" height="19.5" fill="none" stroke="#e69f00" stroke-width="5.0"/>
<line x1="569.6" y1="784.6" x2="569.6" y2="801.6" stroke="#e69f00" stroke-width="5.0" stroke-linecap="butt"/>
<line x1="563.4" y1="784.6" x2="575.9" y2="784.6" stroke="#e69f00" stroke-width="5.0" stroke-linecap="butt"/>
<line x1="563.4" y1="801.6" x2="575.9" y2="801.6" stroke="#e69f00" stroke-width="5.0" stroke-linecap="butt"/>
<rect x="559.9" y="783.4" width="19.5" height="19.5" fill="none" stroke="#e69f00" stroke-width="5.0"/>
<line x1="673.2" y1="739.1" x2="673.2" y2="756.1" stroke="#e69f00" stroke-width="5.0" stroke-linecap="butt"/>
<line x1="667.0" y1="739.1" x2="679.5" y2="739.1" stroke="#e69f00" stroke-width="5.0" stroke-linecap="butt"/>
<line x1="667.0" y1="756.1" x2="679.5" y2="756.1" stroke="#e69f00" stroke-width="5.0" stroke-linecap="butt"/>
<rect x="663.5" y="737.9" width="19.5" height="19.5" fill="none" stroke="#e69f00" stroke-width="5.0"/>
<line x1="753.6" y1="719.1" x2="753.6" y2="736.1" stroke="#e69f00" stroke-width="5.0" stroke-linecap="butt"/>
<line x1="747.4" y1="719.1" x2="759.9" y2="719.1" stroke="#e69f00" stroke-width="5.0" stroke-linecap="butt"/>
<line x1="747.4" y1="736.1" x2="759.9" y2="736.1" stroke="#e69f00" stroke-width="5.0" stroke-linecap="butt"/>
<rect x="743.9" y="717.9" width="19.5" height="19.5" fill="none" stroke="#e69f00" stroke-width="5.0"/>
<line x1="819.3" y1="695.7" x2="819.3" y2="712.7" stroke="#e69f00" stroke-width="5.0" stroke-linecap="butt"/>
<line x1="813.0" y1="695.7" x2="825.5" y2="695.7" stroke="#e69f00" stroke-width="5.0" stroke-linecap="butt"/>
<line x1="813.0" y1="712.7" x2="825.5" y2="712.7" stroke="#e69f00" stroke-width="5.0" stroke-linecap="butt"/>
<rect x="809.5" y="694.5" width="19.5" height="19.5" fill="none" stroke="#e69f00" stroke-width="5.0"/>
<line x1="874.8" y1="678.9" x2="874.8" y2="695.9" stroke="#e69f00" stroke-width="5.0" stroke-linecap="butt"/>
<line x1="868.6" y1="678.9" x2="881.1" y2="678.9" stroke="#e69f00" stroke-width="5.0" stroke-linecap="butt"/>
<line x1="868.6" y1="695.9" x2="881.1" y2="695.9" stroke="#e69f00" stroke-width="5.0" stroke-linecap="butt"/>
<rect x="865.1" y="677.6" width="19.5" height="19.5" fill="none" stroke="#e69f00" stroke-width="5.0"/>
<line x1="922.9" y1="662.9" x2="922.9" y2="679.9" stroke="#e69f00" stroke-width="5.0" stroke-linecap="butt"/>
<line x1="916.7" y1="662.9" x2="929.2" y2="662.9" stroke="#e69f00" stroke-width="5.0" stroke-linecap="butt"/>
<line x1="916.7" y1="679.9" x2="929.2" y2="679.9" stroke="#e69f00" stroke-width="5.0" stroke-linecap="butt"/>
<rect x="913.2" y="661.6" width="19.5" height="19.5" fill="none" stroke="#e69f00" stroke-width="5.0"/>
<line x1="965.3" y1="647.0" x2="965.3" y2="667.0" stroke="#e69f00" stroke-width="5.0" stroke-linecap="butt"/>
<line x1="959.1" y1="647.0" x2="971.6" y2="647.0" stroke="#e69f00" stroke-width="5.0" stroke-linecap="butt"/>
<line x1="959.1" y1="667.0" x2="971.6" y2="667.0" stroke="#e69f00" stroke-width="5.0" stroke-linecap="butt"/>
<rect x="955.6" y="647.2" width="19.5" height="19.5" fill="none" stroke="#e69f00" stroke-width="5.0"/>
<line x1="1003.3" y1="618.4" x2="1003.3" y2="660.6" stroke="#e69f00" stroke-width="5.0" stroke-linecap="butt"/>
<line x1="997.0" y1="618.4" x2="1009.5" y2="618.4" stroke="#e69f00" stroke-width="5.0" stroke-linecap="butt"/>
<line x1="997.0" y1="660.6" x2="1009.5" y2="660.6" stroke="#e69f00" stroke-width="5.0" stroke-linecap="butt"/>
<rect x="993.5" y="627.5" width="19.5" height="19.5" fill="none" stroke="#e69f00" stroke-width="5.0"/>
<line x1="130.6" y1="939.5" x2="1026.1" y2="634.0" stroke="#e69f00" stroke-width="5.0" stroke-linecap="butt"/>
<line x1="173.9" y1="1064.0" x2="173.9" y2="1073.0" stroke="#f0e442" stroke-width="5.0" stroke-linecap="butt"/>
<line x1="167.7" y1="1064.0" x2="180.2" y2="1064.0" stroke="#f0e442" stroke-width="5.0" stroke-linecap="butt"/>
<line x1="167.7" y1="1073.0" x2="180.2" y2="1073.0" stroke="#f0e442" stroke-width="5.0" stroke-linecap="butt"/>
<rect x="164.2" y="1058.8" width="19.5" height="19.5" fill="#f0e442"/>
<line x1="423.6" y1="886.0" x2="423.6" y2="896.0" stroke="#f0e442" stroke-width="5.0" stroke-linecap="butt"/>
<line x1="417.3" y1="886.0" x2="429.8" y2="886.0" stroke="#f0e442" stroke-width="5.0" stroke-linecap="butt"/>
<line x1="417.3" y1="896.0" x2="429.8" y2="896.0" stroke="#f0e442" stroke-width="5.0" stroke-linecap="butt"/>
<rect x="413.8" y="881.2" width="19.5" height="19.5" fill="#f0e442"/>
<line x1="569.6" y1="788.0" x2="569.6" y2="798.0" stroke="#f0e442" stroke-width="5.0" stroke-linecap="butt"/>
<line x1="563.4" y1="788.0" x2="575.9" y2="788.0" stroke="#f0e442" stroke-width="5.0" stroke-linecap="butt"/>
<line x1="563.4" y1="798.0" x2="575.9" y2="798.0" stroke="#f0e442" stroke-width="5.0" stroke-linecap="butt"/>
<rect x="559.9" y="783.2" width="19.5" height="19.5" fill="#f0e442"/>
<line x1="673.2" y1="722.0" x2="673.2" y2="732.0" stroke="#f0e442" stroke-width="5.0" stroke-linecap="butt"/>
<line x1="667.0" y1="722.0" x2="679.5" y2="722.0" stroke="#f0e442" stroke-width="5.0" stroke-linecap="butt"/>
<line x1="667.0" y1="732.0" x2="679.5" y2="732.0" stroke="#f0e442" stroke-width="5.0" stroke-linecap="butt"/>
<rect x="663.5" y="717.5" width="19.5" height="19.5" fill="#f0e442"/>
<line x1="753.6" y1="678.0" x2="753.6" y2="688.0" stroke="#f0e442" stroke-width="5.0" stroke-linecap="butt"/>
<line x1="747.4" y1="678.0" x2="759.9" y2="678.0" stroke="#f0e442" stroke-width="5.0" stroke-linecap="butt"/>
<line x1="747.4" y1="688.0" x2="759.9" y2="688.0" stroke="#f0e442" stroke-width="5.0" stroke-linecap="butt"/>
<rect x="743.9" y="673.2" width="19.5" height="19.5" fill="#f0e442"/>
<line x1="819.3" y1="637.0" x2="819.3" y2="649.0" stroke="#f0e442" stroke-width="5.0" stroke-linecap="butt"/>
<line x1="813.0" y1="637.0" x2="825.5" y2="637.0" stroke="#f0e442" stroke-width="5.0" stroke-linecap="butt"/>
<line x1="813.0" y1="649.0" x2="825.5" y2="649.0" stroke="#f0e442" stroke-width="5.0" stroke-linecap="butt"/>
<rect x="809.5" y="633.2" width="19.5" height="19.5" fill="#f0e442"/>
<line x1="874.8" y1="603.0" x2="874.8" y2="615.0" stroke="#f0e442" stroke-width="5.0" stroke-linecap="butt"/>
<line x1="868.6" y1="603.0" x2="881.1" y2="603.0" stroke="#f0e442" stroke-width="5.0" stroke-linecap="butt"/>
<line x1="868.6" y1="615.0" x2="881.1" y2="615.0" stroke="#f0e442" stroke-width="5.0" stroke-linecap="butt"/>
<rect x="865.1" y="599.2" width="19.5" height="19.5" fill="#f0e442"/>
<line x1="922.9" y1="579.0" x2="922.9" y2="592.0" stroke="#f0e442" stroke-width="5.0" stroke-linecap="butt"/>
<line x1="916.7" y1="579.0" x2="929.2" y2="579.0" stroke="#f0e442" stroke-width="5.0" stroke-linecap="butt"/>
<line x1="916.7" y1="592.0" x2="929.2" y2="592.0" stroke="#f0e442" stroke-width="5.0" stroke-linecap="butt"/>
<rect x="913.2" y="575.6" width="19.5" height="19.5" fill="#f0e442"/>
<line x1="965.3" y1="556.0" x2="965.3" y2="571.0" stroke="#f0e442" stroke-width="5.0" stroke-linecap="butt"/>
<line x1="959.1" y1="556.0" x2="971.6" y2="556.0" stroke="#f0e442" stroke-width="5.0" stroke-linecap="butt"/>
<line x1="959.1" y1="571.0" x2="971.6" y2="571.0" stroke="#f0e442" stroke-width="5.0" stroke-linecap="butt"/>
<rect x="955.6" y="553.8" width="19.5" height="19.5" fill="#f0e442"/>
<line x1="1003.3" y1="533.5" x2="1003.3" y2="557.5" stroke="#f0e442" stroke-width="5.0" stroke-linecap="butt"/>
<line x1="997.0" y1="533.5" x2="1009.5" y2="533.5" stroke="#f0e442" stroke-width="5.0" stroke-linecap="butt"/>
<line x1="997.0" y1="557.5" x2="1009.5" y2="557.5" stroke="#f0e442" stroke-width="5.0" stroke-linecap="butt"/>
<rect x="993.5" y="535.6" width="19.5" height="19.5" fill="#f0e442"/>
<line x1="130.6" y1="1045.8" x2="1026.1" y2="524.3" stroke="#f0e442" stroke-width="5.0" stroke-linecap="butt"/>
</g>
</svg></body></html>
